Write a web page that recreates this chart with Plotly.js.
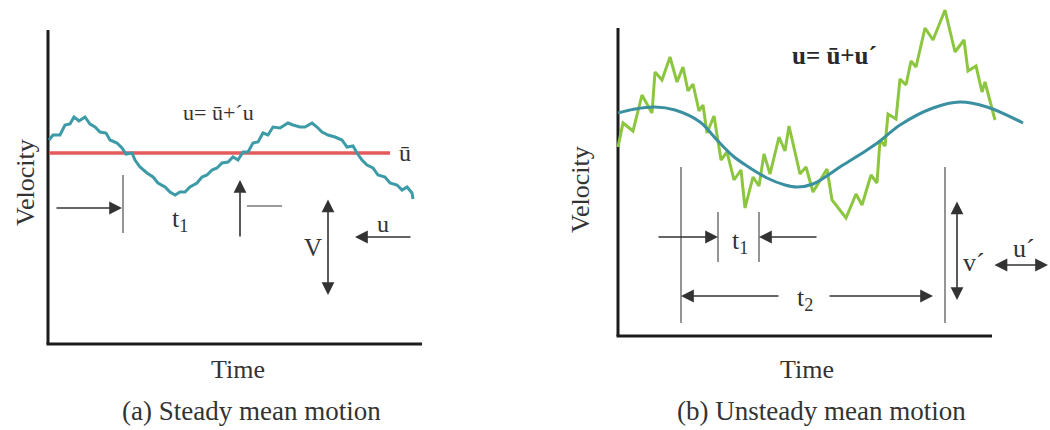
<!DOCTYPE html>
<html>
<head>
<meta charset="utf-8">
<script src="https://cdn.plot.ly/plotly-3.0.1.min.js"></script>
<style>
  html, body { margin: 0; padding: 0; background: #ffffff; }
  #chart { width: 1050px; height: 430px; }
</style>
</head>
<body>
<div id="chart"></div>
<script>
// (a) Steady mean motion: turbulent velocity u = ū + u´ about a constant mean
var steadyTime = [1, 5, 12, 17, 22, 26, 31, 37, 42, 47, 52, 58, 62, 69, 74, 78, 84, 87, 92, 99,
  105, 110, 117, 122, 127, 132, 137, 142, 149, 154, 159, 164, 169, 174, 180, 185, 190, 195, 200,
  205, 210, 215, 220, 225, 232, 240, 245, 252, 257, 264, 269, 274, 280, 287, 294, 299, 305, 309,
  314, 319, 325, 330, 337, 342, 349, 354, 359, 364, 365];
var steadyVelocity = [204, 209, 209, 219, 220, 227, 223, 227, 220, 217, 212, 211, 204, 201, 196,
  190, 191, 184, 177, 171, 167, 161, 157, 152, 149, 152, 152, 157, 161, 167, 169, 174, 176, 181,
  182, 187, 184, 192, 192, 201, 202, 211, 209, 217, 216, 221, 219, 217, 217, 221, 217, 212, 209,
  207, 204, 197, 198, 191, 184, 179, 176, 169, 167, 161, 159, 154, 157, 151, 145];
var steadyMeanTime = [1, 342];
var steadyMeanVelocity = [191, 191];

// (b) Unsteady mean motion: fluctuating velocity riding on a slowly varying mean
var unsteadyTime = [0, 5, 15, 24, 34, 37, 44, 52, 59, 65, 70, 75, 81, 85, 89, 96, 103, 109, 116,
  123, 127, 135, 141, 146, 152, 161, 167, 171, 182, 188, 195, 209, 214, 228, 238, 244, 253, 259,
  262, 267, 270, 278, 282, 288, 293, 298, 307, 315, 327, 337, 346, 350, 358, 364, 367, 377];
var unsteadyVelocity = [189, 213, 205, 241, 223, 264, 256, 279, 254, 269, 245, 252, 225, 231,
  203, 220, 176, 184, 156, 166, 128, 159, 150, 182, 162, 199, 185, 210, 162, 169, 144, 167, 136,
  118, 142, 131, 161, 153, 196, 190, 222, 217, 257, 251, 275, 269, 308, 296, 326, 284, 296, 265,
  270, 244, 254, 216];
var meanTime = [0, 17, 37, 57, 82, 99, 115, 129, 149, 167, 179, 195, 222, 249, 262, 282, 315,
  342, 369, 405];
var meanVelocity = [223, 227, 229, 226, 214, 196, 180, 170, 158, 151, 149, 152, 169, 186, 195,
  211, 228, 234, 229, 213];

var captions = ['(a) Steady mean motion', '(b) Unsteady mean motion'];

var SERIF = '"Liberation Serif", "Times New Roman", "DejaVu Serif", serif';
var INK = '#333333';
var AXIS = '#1c1c1c';
var TICK = '#7a7a7a';

var traces = [
  { x: steadyMeanTime, y: steadyMeanVelocity, xaxis: 'x', yaxis: 'y', mode: 'lines',
    line: { color: '#e35b5b', width: 3.4 }, hoverinfo: 'skip' },
  { x: steadyTime, y: steadyVelocity, xaxis: 'x', yaxis: 'y', mode: 'lines',
    line: { color: '#3c9ba6', width: 3 }, hoverinfo: 'skip' },
  { x: unsteadyTime, y: unsteadyVelocity, xaxis: 'x2', yaxis: 'y2', mode: 'lines',
    line: { color: '#8cc63f', width: 3 }, hoverinfo: 'skip' },
  { x: meanTime, y: meanVelocity, xaxis: 'x2', yaxis: 'y2', mode: 'lines',
    line: { color: '#3a8fa0', width: 3, shape: 'spline', smoothing: 1 }, hoverinfo: 'skip' }
];

function seg(xr, yr, x0, y0, x1, y1, color, width) {
  return { type: 'line', xref: xr, yref: yr, x0: x0, y0: y0, x1: x1, y1: y1,
           line: { color: color, width: width }, layer: 'below' };
}

var shapes = [
  // frame of panel (a)
  seg('x', 'y', 0, 0, 0, 314, AXIS, 3),
  seg('x', 'y', -1.5, 0, 374, 0, AXIS, 3),
  // frame of panel (b)
  seg('x2', 'y2', 0, 0, 0, 308, AXIS, 3),
  seg('x2', 'y2', -1.5, 0, 374, 0, AXIS, 3),
  // period markers in (a)
  seg('x', 'y', 75, 111, 75, 169, TICK, 1.6),
  seg('x', 'y', 199, 138, 234, 138, TICK, 1.6),
  // period markers in (b)
  seg('x2', 'y2', 63, 13, 63, 169, TICK, 1.6),
  seg('x2', 'y2', 327, 13, 327, 169, TICK, 1.6),
  seg('x2', 'y2', 100, 74, 100, 124, TICK, 1.6),
  seg('x2', 'y2', 141, 74, 141, 124, TICK, 1.6)
];

function arrow(xr, yr, tx, ty, hx, hy, both) {
  var a = { xref: xr, yref: yr, axref: xr, ayref: yr, x: hx, y: hy, ax: tx, ay: ty,
            text: '', showarrow: true, arrowhead: 2, arrowsize: 1.6, arrowwidth: 1.6,
            arrowcolor: INK, standoff: 0, startstandoff: 0 };
  if (both) {
    a.arrowside = 'end+start';
    a.startarrowhead = 2;
    a.startarrowsize = 1.6;
  }
  return a;
}

function label(xr, yr, x, y, text, size, extra) {
  var a = { xref: xr, yref: yr, x: x, y: y, text: text, showarrow: false,
            xanchor: 'center', yanchor: 'middle',
            font: { family: SERIF, size: size, color: INK } };
  if (extra) { for (var k in extra) { a[k] = extra[k]; } }
  return a;
}

var annotations = [
  // panel (a)
  arrow('x', 'y', 7, 136, 74, 136),
  arrow('x', 'y', 192, 106, 192, 164),
  arrow('x', 'y', 280, 146, 280, 49, true),
  arrow('x', 'y', 364, 107, 307, 107),
  label('x', 'y', 170, 232, 'u= ū+´u', 22),
  label('x', 'y', 357, 191, 'ū', 24),
  label('x', 'y', 132, 124, 't<sub>1</sub>', 26),
  label('x', 'y', 265, 97, 'V', 25),
  label('x', 'y', 335, 120, 'u', 24),
  label('x', 'y', -23, 161, 'Velocity', 26, { textangle: -90 }),
  label('x', 'y', 190, -25, 'Time', 26),
  label('x', 'y', 203, -67, captions[0], 27),
  // panel (b)
  arrow('x2', 'y2', 39, 99, 100, 99),
  arrow('x2', 'y2', 200, 99, 141, 99),
  arrow('x2', 'y2', 162, 40, 63, 40),
  arrow('x2', 'y2', 210, 40, 315, 40),
  arrow('x2', 'y2', 339, 136, 339, 36, true),
  arrow('x2', 'y2', 375, 71, 430, 71, true),
  label('x2', 'y2', 216, 281, 'u= ū+u´', 25,
        { font: { family: SERIF, size: 25, color: '#2a2a2a', weight: 'bold' } }),
  label('x2', 'y2', 122, 94, 't<sub>1</sub>', 26),
  label('x2', 'y2', 187, 37, 't<sub>2</sub>', 26),
  label('x2', 'y2', 356, 74, 'v´', 26),
  label('x2', 'y2', 406, 88, 'u´', 26),
  label('x2', 'y2', -38, 146, 'Velocity', 26, { textangle: -90 }),
  label('x2', 'y2', 189, -33, 'Time', 26),
  label('x2', 'y2', 203, -75, captions[1], 27)
];

var hidden = { visible: false, fixedrange: true, showgrid: false, zeroline: false };

var layout = {
  width: 1050, height: 430,
  margin: { l: 0, r: 0, t: 0, b: 0 },
  paper_bgcolor: '#ffffff', plot_bgcolor: '#ffffff',
  showlegend: false,
  xaxis: Object.assign({ domain: [0, 0.5], range: [-48, 477], anchor: 'y' }, hidden),
  yaxis: Object.assign({ domain: [0, 1], range: [-86, 344], anchor: 'x' }, hidden),
  xaxis2: Object.assign({ domain: [0.5, 1], range: [-93, 432], anchor: 'y2' }, hidden),
  yaxis2: Object.assign({ domain: [0, 1], range: [-94, 336], anchor: 'x2' }, hidden),
  shapes: shapes,
  annotations: annotations
};

Plotly.newPlot('chart', traces, layout, { staticPlot: true, displayModeBar: false });
</script>
</body>
</html>
